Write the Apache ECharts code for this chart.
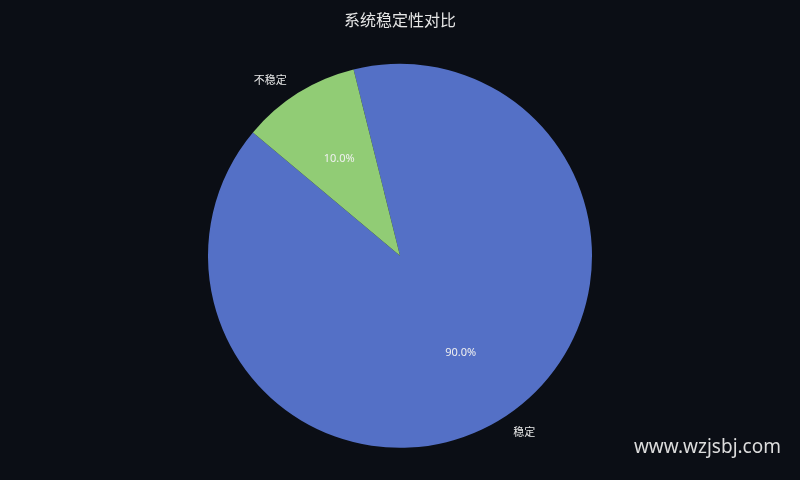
<!DOCTYPE html>
<html>
<head>
<meta charset="utf-8">
<script src="https://cdn.jsdelivr.net/npm/echarts@6/dist/echarts.min.js"></script>
<style>
html,body{margin:0;padding:0;background:#0b0e15;}
#main{width:800px;height:480px;}
</style>
</head>
<body>
<div id="main"></div>
<script>
var titleText = '系统稳定性对比';
var categories = ['稳定', '不稳定'];
var values = [90, 10];
var watermark = 'www.wzjsbj.com';

var data = categories.map(function (c, i) { return { name: c, value: values[i] }; });
var chart = echarts.init(document.getElementById('main'));
chart.setOption({
  backgroundColor: '#0b0e15',
  color: ['#5470c6', '#91cc75'],
  title: {
    text: titleText,
    left: 'center',
    top: 7,
    textStyle: { color: '#e6e6e6', fontSize: 16, fontWeight: 'normal', fontFamily: 'Noto Sans CJK SC' }
  },
  graphic: [{
    type: 'text',
    right: 19,
    top: 438,
    style: { text: watermark, fill: '#dcdcdc', fontSize: 19, fontFamily: 'Noto Sans' }
  }],
  series: [{
    type: 'pie',
    center: ['50%', '53.3%'],
    radius: '80%',
    startAngle: 104,
    data: data,
    label: { show: true, position: 'outside', formatter: '{b}', color: '#e6e6e6', fontSize: 11, fontFamily: 'Noto Sans CJK SC', distanceToLabelLine: 3 },
    labelLine: { show: false, length: 16, length2: 0 }
  }, {
    type: 'pie',
    center: ['50%', '53.3%'],
    radius: '93%',
    startAngle: 104,
    silent: true,
    data: data,
    itemStyle: { color: 'transparent' },
    label: { show: true, position: 'inside', formatter: function (p) { return p.percent.toFixed(1) + '%'; }, color: '#f0f0f0', fontSize: 11, fontFamily: 'Noto Sans' },
    labelLine: { show: false }
  }]
});
</script>
</body>
</html>
